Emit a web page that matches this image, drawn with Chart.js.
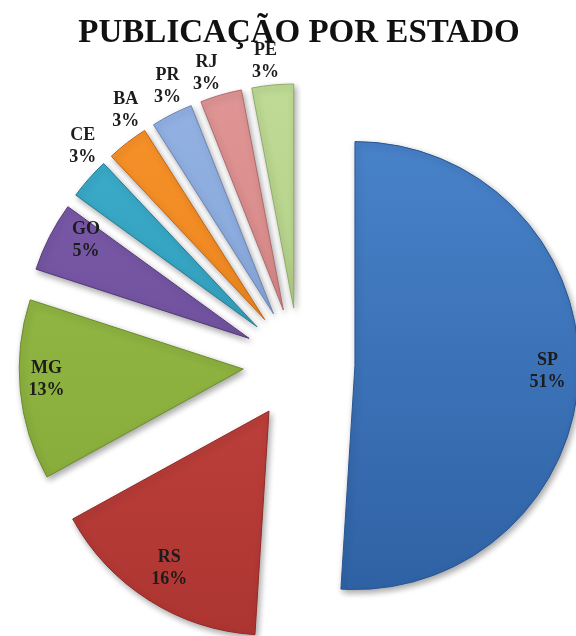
<!DOCTYPE html>
<html><head><meta charset="utf-8">
<script src="https://cdn.jsdelivr.net/npm/chart.js@4.4.1/dist/chart.umd.min.js"></script>
<style>html,body{margin:0;padding:0;background:#fff;}</style>
</head><body>
<canvas id="c" width="576" height="636"></canvas>
<script>
// ---- data ----
const states = ['SP', 'RS', 'MG', 'GO', 'CE', 'BA', 'PR', 'RJ', 'PE'];
const shares = [51, 16, 13, 5, 3, 3, 3, 3, 3];
const titleText = 'PUBLICAÇÃO POR ESTADO';

// ---- style ----
const topColors    = ['#4882c9', '#c94843', '#97bc48', '#7c5caa', '#3cadcb', '#f7922a', '#93b2e3', '#e09595', '#bfda95'];
const bottomColors = ['#2f62a5', '#ad3531', '#83a837', '#674894', '#2a94b2', '#e57c15', '#7e9ed4', '#cf7e7e', '#aac97d'];
const edgeColors   = ['#285592', '#8f2b28', '#6c8c2d', '#533a78', '#217b94', '#c06612', '#6985b4', '#b06a6a', '#8fad66'];
const labelRadius  = [0.86, 0.83, 0.88, 0.85, 1.12, 1.12, 1.12, 1.11, 1.11];
const labelTurnDeg = [0, 0, 2.5, 4, 4.6, 4.2, 2, -1.8, -1.1];
const RADIUS = 224;
const EXPLODE = 56;

const total = shares.reduce((a, b) => a + b, 0);

function fillFor(ctx) {
  const chart = ctx.chart;
  const i = ctx.dataIndex;
  const area = chart.chartArea;
  if (!area) return bottomColors[i];
  const cy = (area.top + area.bottom) / 2;
  const g = chart.ctx.createLinearGradient(0, cy - RADIUS, 0, cy + RADIUS);
  g.addColorStop(0, topColors[i]);
  g.addColorStop(1, bottomColors[i]);
  return g;
}

// explode each slice outward along its middle angle, and drop a soft shadow
const explodePlugin = {
  id: 'explode',
  afterUpdate(chart) {
    chart.getDatasetMeta(0).data.forEach(arc => {
      if (arc._exploded) return;
      const orig = arc.draw;
      arc.draw = function (ctx) {
        const mid = (this.startAngle + this.endAngle) / 2;
        ctx.save();
        ctx.translate(Math.cos(mid) * EXPLODE, Math.sin(mid) * EXPLODE);
        orig.call(this, ctx);
        ctx.restore();
      };
      arc._exploded = true;
    });
  },
  beforeDatasetDraw(chart) {
    const ctx = chart.ctx;
    ctx.save();
    ctx.shadowColor = 'rgba(0,0,0,0.35)';
    ctx.shadowBlur = 6;
    ctx.shadowOffsetX = 2;
    ctx.shadowOffsetY = 3;
  },
  afterDatasetDraw(chart) {
    chart.ctx.restore();
  }
};

const labelPlugin = {
  id: 'sliceLabels',
  afterDatasetsDraw(chart) {
    const ctx = chart.ctx;
    ctx.save();
    ctx.font = 'bold 18px "Liberation Serif", "Times New Roman", serif';
    ctx.fillStyle = '#1c1c1c';
    ctx.textAlign = 'center';
    ctx.textBaseline = 'middle';
    chart.getDatasetMeta(0).data.forEach((arc, i) => {
      const mid = (arc.startAngle + arc.endAngle) / 2;
      const cx = arc.x + Math.cos(mid) * EXPLODE;
      const cy = arc.y + Math.sin(mid) * EXPLODE;
      const a = mid + labelTurnDeg[i] * Math.PI / 180;
      const r = arc.outerRadius * labelRadius[i];
      const x = cx + Math.cos(a) * r;
      const y = cy + Math.sin(a) * r;
      const pct = Math.round(shares[i] / total * 100) + '%';
      ctx.fillText(states[i], x, y - 11);
      ctx.fillText(pct, x, y + 11);
    });
    ctx.restore();
  }
};

new Chart(document.getElementById('c'), {
  type: 'pie',
  data: {
    labels: states,
    datasets: [{
      data: shares,
      backgroundColor: fillFor,
      borderColor: edgeColors,
      borderWidth: 1,
      offset: 0,
      hoverOffset: 0,
      clip: false
    }]
  },
  options: {
    responsive: false,
    animation: false,
    radius: RADIUS,
    layout: { padding: { left: 22, right: 0, top: 0, bottom: 0 } },
    plugins: {
      legend: { display: false },
      tooltip: { enabled: false },
      title: {
        display: true,
        text: titleText,
        color: '#111111',
        font: { family: '"Liberation Serif", "Times New Roman", serif', size: 33, weight: 'bold' },
        padding: { top: 14, bottom: 38 }
      }
    }
  },
  plugins: [explodePlugin, labelPlugin]
});
</script>
</body></html>
